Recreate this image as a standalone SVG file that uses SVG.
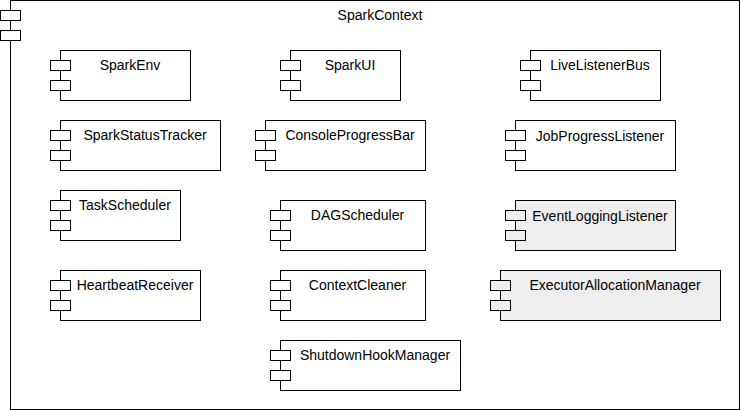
<svg xmlns="http://www.w3.org/2000/svg" width="741" height="411" viewBox="0 0 741 411">
<style>
.box{fill:#ffffff;stroke:#000000;stroke-width:1}
.grey .box{fill:#eeeeee}
.port{fill:#ffffff;stroke:#000000;stroke-width:1}
.grey .port{fill:#eeeeee}
text{font-family:"Liberation Sans",Arial,Helvetica,sans-serif;font-size:14px;fill:#000000;text-anchor:middle}
</style>
<rect width="741" height="411" fill="#ffffff"/>
<g id="SparkContext">
<rect class="box" x="10.5" y="0.5" width="729" height="409"/>
<rect class="port" x="0.5" y="10.5" width="20" height="10"/>
<rect class="port" x="0.5" y="30.5" width="20" height="10"/>
<text x="380" y="20">SparkContext</text>
</g>
<g id="SparkEnv">
<rect class="box" x="60.5" y="50.5" width="130" height="50"/>
<rect class="port" x="50.5" y="60.5" width="20" height="10"/>
<rect class="port" x="50.5" y="80.5" width="20" height="10"/>
<text x="130" y="70">SparkEnv</text>
</g>
<g id="SparkUI">
<rect class="box" x="290.5" y="50.5" width="110" height="50"/>
<rect class="port" x="280.5" y="60.5" width="20" height="10"/>
<rect class="port" x="280.5" y="80.5" width="20" height="10"/>
<text x="350" y="70">SparkUI</text>
</g>
<g id="LiveListenerBus">
<rect class="box" x="530.5" y="50.5" width="130" height="50"/>
<rect class="port" x="520.5" y="60.5" width="20" height="10"/>
<rect class="port" x="520.5" y="80.5" width="20" height="10"/>
<text x="600" y="70">LiveListenerBus</text>
</g>
<g id="SparkStatusTracker">
<rect class="box" x="60.5" y="120.5" width="160" height="50"/>
<rect class="port" x="50.5" y="130.5" width="20" height="10"/>
<rect class="port" x="50.5" y="150.5" width="20" height="10"/>
<text x="145" y="140">SparkStatusTracker</text>
</g>
<g id="ConsoleProgressBar">
<rect class="box" x="265.5" y="120.5" width="160" height="50"/>
<rect class="port" x="255.5" y="130.5" width="20" height="10"/>
<rect class="port" x="255.5" y="150.5" width="20" height="10"/>
<text x="350" y="140">ConsoleProgressBar</text>
</g>
<g id="JobProgressListener">
<rect class="box" x="515.5" y="120.5" width="160" height="50"/>
<rect class="port" x="505.5" y="130.5" width="20" height="10"/>
<rect class="port" x="505.5" y="150.5" width="20" height="10"/>
<text x="600" y="140.5">JobProgressListener</text>
</g>
<g id="TaskScheduler">
<rect class="box" x="60.5" y="190.5" width="120" height="50"/>
<rect class="port" x="50.5" y="200.5" width="20" height="10"/>
<rect class="port" x="50.5" y="220.5" width="20" height="10"/>
<text x="125" y="210">TaskScheduler</text>
</g>
<g id="DAGScheduler">
<rect class="box" x="280.5" y="200.5" width="145" height="50"/>
<rect class="port" x="270.5" y="210.5" width="20" height="10"/>
<rect class="port" x="270.5" y="230.5" width="20" height="10"/>
<text x="357.5" y="220">DAGScheduler</text>
</g>
<g id="EventLoggingListener" class="grey">
<rect class="box" x="515.5" y="200.5" width="160" height="50"/>
<rect class="port" x="505.5" y="210.5" width="20" height="10"/>
<rect class="port" x="505.5" y="230.5" width="20" height="10"/>
<text x="600" y="220.5">EventLoggingListener</text>
</g>
<g id="HeartbeatReceiver">
<rect class="box" x="60.5" y="270.5" width="140" height="50"/>
<rect class="port" x="50.5" y="280.5" width="20" height="10"/>
<rect class="port" x="50.5" y="300.5" width="20" height="10"/>
<text x="135" y="290">HeartbeatReceiver</text>
</g>
<g id="ContextCleaner">
<rect class="box" x="280.5" y="270.5" width="145" height="50"/>
<rect class="port" x="270.5" y="280.5" width="20" height="10"/>
<rect class="port" x="270.5" y="300.5" width="20" height="10"/>
<text x="357.5" y="290">ContextCleaner</text>
</g>
<g id="ExecutorAllocationManager" class="grey">
<rect class="box" x="500.5" y="270.5" width="220" height="50"/>
<rect class="port" x="490.5" y="280.5" width="20" height="10"/>
<rect class="port" x="490.5" y="300.5" width="20" height="10"/>
<text x="615" y="290">ExecutorAllocationManager</text>
</g>
<g id="ShutdownHookManager">
<rect class="box" x="280.5" y="340.5" width="180" height="50"/>
<rect class="port" x="270.5" y="350.5" width="20" height="10"/>
<rect class="port" x="270.5" y="370.5" width="20" height="10"/>
<text x="375" y="360">ShutdownHookManager</text>
</g>
<g id="connectors"/>
</svg>
